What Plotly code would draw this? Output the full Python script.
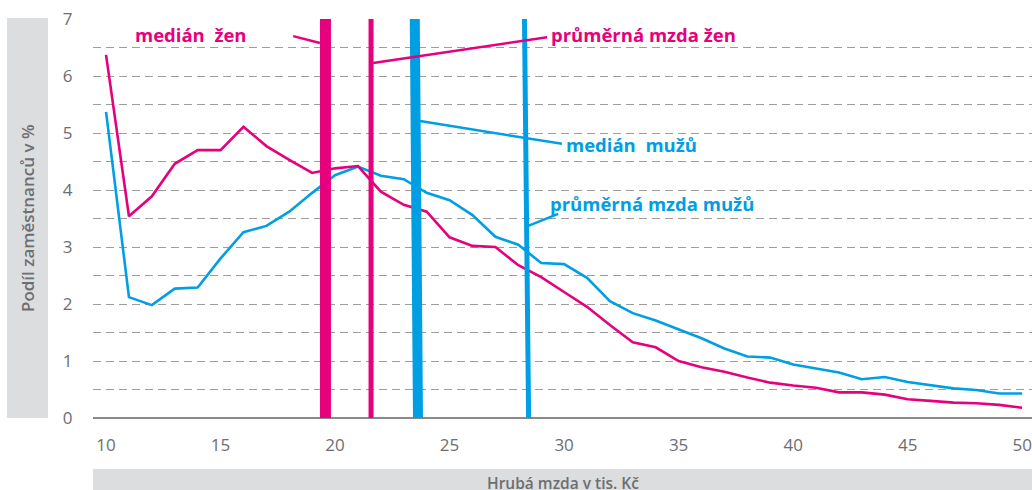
import plotly.graph_objects as go

# ---- data ----
wage = list(range(10, 51))  # tis. Kč
women = [6.37, 3.54, 3.89, 4.46, 4.70, 4.70, 5.11, 4.77, 4.53, 4.30,
         4.38, 4.42, 3.97, 3.74, 3.62, 3.17, 3.02, 3.00, 2.68, 2.47,
         2.21, 1.95, 1.63, 1.33, 1.24, 1.00, 0.89, 0.81, 0.71, 0.62,
         0.57, 0.53, 0.45, 0.45, 0.41, 0.33, 0.30, 0.27, 0.26, 0.23, 0.18]
men = [5.37, 2.12, 1.98, 2.27, 2.29, 2.80, 3.26, 3.37, 3.62, 3.95,
       4.26, 4.41, 4.25, 4.19, 3.95, 3.82, 3.56, 3.18, 3.04, 2.72,
       2.70, 2.46, 2.05, 1.84, 1.71, 1.55, 1.40, 1.22, 1.08, 1.06,
       0.94, 0.87, 0.80, 0.68, 0.72, 0.63, 0.57, 0.52, 0.49, 0.43, 0.43]

median_women = 19.58
mean_women = 21.57
median_men = (23.48, 23.62)   # drawn slightly slanted in the original (top, bottom)
mean_men = (28.27, 28.45)

yticks = [0, 1, 2, 3, 4, 5, 6, 7]
xticks = [10, 15, 20, 25, 30, 35, 40, 45, 50]

PINK = "#e6007e"
BLUE = "#009fe3"
GREY = "#6d6e71"
BOXGREY = "#dcdddf"
FONT = "Open Sans"

fig = go.Figure()
fig.add_trace(go.Scatter(x=wage, y=men, mode="lines",
                         line=dict(color=BLUE, width=2.6), hoverinfo="skip"))
fig.add_trace(go.Scatter(x=wage, y=women, mode="lines",
                         line=dict(color=PINK, width=2.6), hoverinfo="skip"))

shapes = []
# grey title boxes
shapes.append(dict(type="rect", xref="paper", yref="paper",
                   x0=-0.0916, x1=-0.0479, y0=0, y1=1.0025,
                   fillcolor=BOXGREY, line=dict(width=0), layer="below"))
shapes.append(dict(type="rect", xref="paper", yref="paper",
                   x0=0, x1=1, y0=-0.128, y1=-0.19,
                   fillcolor=BOXGREY, line=dict(width=0), layer="below"))

# vertical marker bars
shapes.append(dict(type="line", x0=median_women, x1=median_women, y0=0, y1=7,
                   line=dict(color=PINK, width=11), layer="above"))
shapes.append(dict(type="line", x0=mean_women, x1=mean_women, y0=0, y1=7,
                   line=dict(color=PINK, width=5), layer="above"))
shapes.append(dict(type="line", x0=median_men[0], x1=median_men[1], y0=7, y1=0,
                   line=dict(color=BLUE, width=10), layer="above"))
shapes.append(dict(type="line", x0=mean_men[0], x1=mean_men[1], y0=7, y1=0,
                   line=dict(color=BLUE, width=5), layer="above"))

# leader lines
leaders = [
    ((18.17, 6.70), (19.34, 6.58), PINK),
    ((21.66, 6.23), (29.26, 6.68), PINK),
    ((23.71, 5.21), (29.91, 4.81), BLUE),
    ((28.43, 3.37), (29.74, 3.58), BLUE),
]
for (x0, y0), (x1, y1), c in leaders:
    shapes.append(dict(type="line", x0=x0, y0=y0, x1=x1, y1=y1,
                       line=dict(color=c, width=2.5), layer="above"))

ann_font = lambda c: dict(color=c, size=18.5, family=FONT, weight="bold")
annotations = [
    dict(x=16.25, y=6.72, text="medián\u00a0 žen", xanchor="right", yanchor="middle",
         font=ann_font(PINK), showarrow=False),
    dict(x=29.35, y=6.72, text="průměrná mzda žen", xanchor="left", yanchor="middle",
         font=ann_font(PINK), showarrow=False),
    dict(x=30.0, y=4.80, text="medián\u00a0 mužů", xanchor="left", yanchor="middle",
         font=ann_font(BLUE), showarrow=False),
    dict(x=29.3, y=3.77, text="průměrná mzda mužů", xanchor="left", yanchor="middle",
         font=ann_font(BLUE), showarrow=False),
    dict(xref="paper", yref="paper", x=-0.0697, y=0.5, text="Podíl zaměstnanců v %",
         textangle=-90, showarrow=False, xanchor="center", yanchor="middle",
         font=dict(color=GREY, size=17, family=FONT, weight=600)),
    dict(xref="paper", yref="paper", x=0.5, y=-0.131, text="Hrubá mzda v tis. Kč",
         showarrow=False, xanchor="center", yanchor="top",
         font=dict(color=GREY, size=15.5, family=FONT, weight=600)),
]

fig.update_layout(
    width=1032, height=490,
    margin=dict(l=93, r=0, t=19, b=72, pad=0),
    paper_bgcolor="white", plot_bgcolor="white",
    showlegend=False,
    shapes=shapes, annotations=annotations,
    xaxis=dict(range=[9.43, 50.43], tickvals=xticks, showgrid=False,
               zeroline=False, showline=False,
               ticks="outside", ticklen=12, tickcolor="rgba(0,0,0,0)",
               tickfont=dict(color=GREY, size=17, family=FONT)),
    yaxis=dict(range=[0, 7], tickvals=yticks, showgrid=True,
               gridcolor="#9d9d9c", gridwidth=1.3, griddash="8px,5px",
               minor=dict(dtick=0.5, showgrid=True, gridcolor="#9d9d9c",
                          gridwidth=1.3, griddash="8px,5px"),
               zeroline=True, zerolinecolor="#8a8a8a", zerolinewidth=2,
               ticks="outside", ticklen=16, tickcolor="rgba(0,0,0,0)",
               tickfont=dict(color=GREY, size=17, family=FONT)),
)

fig.write_html("out.html", config={"displayModeBar": False},
               post_script="document.body.style.margin='0';document.body.style.overflow='hidden';")
